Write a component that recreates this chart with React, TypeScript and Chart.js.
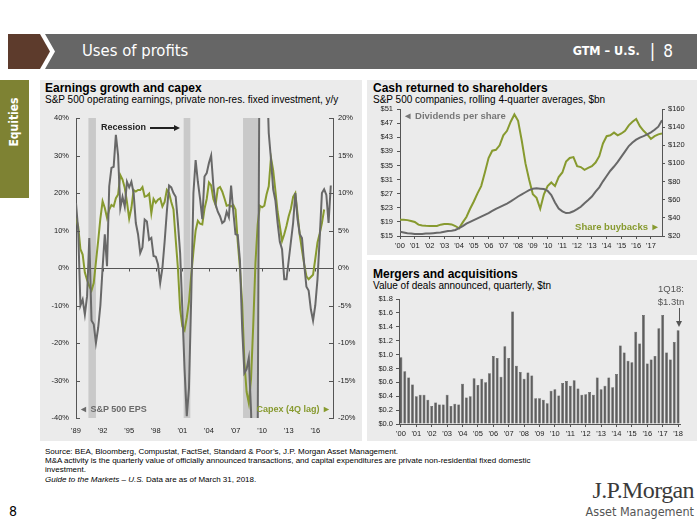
import React, { useEffect, useRef } from 'react';
import { Chart, registerables } from 'chart.js';

Chart.register(...registerables);

const SANS = '"Liberation Sans", Arial, Helvetica, sans-serif';
const NARROW = '"Liberation Sans Narrow", "DejaVu Sans Condensed", "Liberation Sans", sans-serif';
const SERIF = '"Liberation Serif", "DejaVu Serif", serif';

const GREEN = '#879a2f';
const GRAY = '#686868';
const AXIS = '#555555';
const TXT = '#222222';
const PANEL = '#ebebeb';

// ---------- Earnings growth and capex (quarterly, from 1989 Q1) ----------
const epsStartYear = 1989;
const epsValues = [
  17.3, 10, -10, -8.4, -12.4, -7.5, 8, -14, -15, -20,
  -16, -10, 0, 9, 0.5, 21.8, 26.7, 27, 35.5, 30,
  16, 19, 16.4, 23, 21.5, 23, 20, 12, 9, 4,
  5.5, 12.9, 12.4, 7.5, 8, 3.2, 3, 1, -4, 0,
  7, 15, 22, 21.5, 20, 19, 12, 4, -11, -27,
  -39.5, -32, -8, 20, 28.8, 23, 18.5, 13, 24.4, 25.3,
  28, 30, 22, 17, 15, 13.8, 12, 12.5, 15, 13.5,
  22, 15, 9, 8.8, 2, -16, -28, -27, -24, -38,
  -60, -65, -45, 80, 150, 120, 55, 36, 29, 21,
  18, 12, 7, 5, -3, -3, 2, 7, 12, 20,
  13, 9, 8, 1, -5, -6, -11, -14, -10, -3,
  8, 20, 21, 19.5, 12, 22,
];
const capexValues = [
  6.7, 5.5, 2.5, 1.8, -0.6, -1.6, -2.4, -3, -2, 0.8,
  3.6, 6.6, 8.9, 8, 6.7, 7.8, 8.4, 8.2, 9.3, 9.8,
  12.4, 11.8, 10.7, 8.8, 6.6, 8, 10.4, 10.2, 10.4, 10.4,
  10.8, 9.5, 9.6, 9.9, 7.3, 9.2, 8.7, 9.1, 9.3, 8.2,
  8.8, 10.4, 10, 8.8, 7.8, 3.8, 0, -5.5, -7.8, -8.3,
  -6.6, -4.5, -1, 2.2, 5, 6.3, 5.9, 5.8, 7.9, 9.2,
  11.4, 11, 9.2, 8.4, 10.6, 10.8, 10.2, 9.3, 8.3, 8.4,
  8.2, 8.4, 7.8, 3.5, 0, -4.7, -12.5, -16.5, -18, -14.8,
  -7.6, 0.7, 5.8, 8.3, 8.1, 8.3, 9.8, 10.9, 14.7, 13,
  10.3, 7.5, 5.6, 3.6, 4.5, 5.6, 6.9, 7.9, 9.5, 10,
  7.2, 4.4, 2.4, 0.5, -1.1, -1.5, -1.2, -0.9, 1.2, 3.4,
  4.6, 6, 7.8,
];
const recessions = [
  [1990.4, 1991.25],
  [2001.15, 2001.9],
  [2007.85, 2009.6],
];
const earningsYearTicks = [1989, 1992, 1995, 1998, 2001, 2004, 2007, 2010, 2013, 2016];
const epsAxisTicks = [-40, -30, -20, -10, 0, 10, 20, 30, 40];
const capexAxisTicks = [-20, -15, -10, -5, 0, 5, 10, 15, 20];

// ---------- Cash returned to shareholders (quarterly, from 2000 Q1) ----------
const cashStartYear = 2000;
const dividendValues = [
  16.2, 16.0, 15.8, 15.7, 15.6, 15.6, 15.6, 15.7, 15.7, 15.8,
  15.9, 16.0, 16.2, 16.4, 16.5, 16.7, 17.2, 17.8, 18.5, 19.0,
  19.5, 20, 20.5, 21, 21.5, 22.1, 22.7, 23.2, 23.7, 24.2,
  24.8, 25.5, 26.2, 26.8, 27.4, 28, 28.4, 28.5, 28.4, 28.3,
  27.8, 26.6, 24.5, 22.8, 22.0, 21.5, 21.6, 22.0, 22.6, 23.3,
  24.3, 25.2, 26.2, 27.6, 28.8, 30.5, 32, 33.5, 34.7, 36,
  37.5, 39, 40.5, 41.5, 42.3, 42.9, 43.3, 43.8, 44.4, 45.1,
  46, 47.8,
];
const buybackValues = [
  37.8, 37.8, 37.5, 36.5, 35.5, 32.5, 31.5, 31.2, 31, 31,
  31, 32.5, 33.3, 33.3, 32.8, 31, 28.5, 35, 41, 50,
  58, 67, 75, 90, 106, 114, 115, 120, 131, 136,
  146, 154, 147, 125, 100, 82, 66, 62, 50, 66,
  75, 79, 75, 85, 90, 102, 106, 107, 97, 96,
  93, 95, 97, 101, 108, 122, 130, 131, 134, 131,
  133, 136, 142, 146, 149, 141, 136, 132, 127, 130,
  132, 133,
];
const cashYearTicks = [2000, 2001, 2002, 2003, 2004, 2005, 2006, 2007, 2008, 2009, 2010, 2011, 2012, 2013, 2014, 2015, 2016, 2017];
const dividendAxisTicks = [15, 19, 23, 27, 31, 35, 39, 43, 47, 51];
const buybackAxisTicks = [20, 40, 60, 80, 100, 120, 140, 160];

// ---------- Mergers and acquisitions (quarterly, 2000 Q1 - 2018 Q1) ----------
const mnaValues = [
  0.96, 0.76, 0.67, 0.57, 0.40, 0.42, 0.42, 0.35, 0.26, 0.31,
  0.28, 0.28, 0.42, 0.26, 0.29, 0.28, 0.58, 0.38, 0.40, 0.66,
  0.56, 0.65, 0.60, 0.73, 0.98, 0.95, 0.68, 1.12, 0.95, 1.62,
  0.84, 0.75, 0.65, 0.74, 0.70, 0.37, 0.37, 0.35, 0.30, 0.48,
  0.50, 0.41, 0.59, 0.62, 0.55, 0.63, 0.51, 0.42, 0.43, 0.46,
  0.42, 0.67, 0.50, 0.55, 0.67, 0.53, 0.72, 1.13, 1.03, 0.91,
  0.89, 1.33, 1.16, 1.57, 0.87, 0.93, 0.98, 1.38, 1.57, 1.03,
  0.93, 1.18, 1.35,
];
const mnaYearLabels = ["'00", "'01", "'02", "'03", "'04", "'05", "'06", "'07", "'08", "'09", "'10", "'11", "'12", "'13", "'14", "'15", "'16", "'17", "'18"];
const mnaAxisTicks = [0, 0.2, 0.4, 0.6, 0.8, 1.0, 1.2, 1.4, 1.6, 1.8];

const tickFont = { family: SANS, size: 7.5 };

function yearLabel(v: number) {
  return "'" + String(Math.round(v)).slice(2);
}

const earningsDecor = {
  id: 'earningsDecor',
  beforeDraw(chart: any) {
    const { ctx, chartArea: a, scales } = chart;
    const x = scales.x;
    ctx.save();
    ctx.fillStyle = '#c9c9c9';
    recessions.forEach(([s, e]) => {
      const x0 = x.getPixelForValue(s);
      const x1 = x.getPixelForValue(e);
      ctx.fillRect(x0, a.top, x1 - x0, a.bottom - a.top);
    });
    ctx.restore();
  },
  afterDraw(chart: any) {
    const { ctx, chartArea: a, scales } = chart;
    const { x, y, y2 } = scales;
    ctx.save();
    ctx.strokeStyle = AXIS;
    ctx.lineWidth = 1;
    y.ticks.forEach((t: any) => {
      const py = Math.round(y.getPixelForValue(t.value)) + 0.5;
      ctx.beginPath();
      ctx.moveTo(a.left, py);
      ctx.lineTo(a.left + 4, py);
      ctx.stroke();
    });
    y2.ticks.forEach((t: any) => {
      const py = Math.round(y2.getPixelForValue(t.value)) + 0.5;
      ctx.beginPath();
      ctx.moveTo(a.right - 4, py);
      ctx.lineTo(a.right, py);
      ctx.stroke();
    });
    const zy = Math.round(y.getPixelForValue(0)) + 0.5;
    x.ticks.forEach((t: any) => {
      const px = Math.round(x.getPixelForValue(t.value)) + 0.5;
      ctx.beginPath();
      ctx.moveTo(px, zy);
      ctx.lineTo(px, zy + 3);
      ctx.stroke();
    });
    ctx.restore();
  },
};

type TProps = {
  x: number; y: number; size: number; children: React.ReactNode;
  bold?: boolean; italic?: boolean; color?: string; family?: string;
  align?: 'left' | 'right' | 'center'; width?: number; spacing?: number;
};
function T({ x, y, size, children, bold, italic, color, family, align, width, spacing }: TProps) {
  const style: React.CSSProperties = {
    position: 'absolute',
    top: y,
    fontSize: size,
    lineHeight: 1,
    fontWeight: bold ? 'bold' : 'normal',
    fontStyle: italic ? 'italic' : 'normal',
    color: color || '#000',
    fontFamily: family || SANS,
    whiteSpace: 'nowrap',
    letterSpacing: spacing,
  };
  if (align === 'right') {
    style.right = 700 - x;
    style.textAlign = 'right';
  } else if (align === 'center') {
    style.left = x - (width || 60) / 2;
    style.width = width || 60;
    style.textAlign = 'center';
  } else {
    style.left = x;
  }
  return <div style={style}>{children}</div>;
}

function Box(props: { x: number; y: number; w: number; h: number; bg: string; clip?: string }) {
  return (
    <div
      style={{
        position: 'absolute', left: props.x, top: props.y, width: props.w, height: props.h,
        background: props.bg, clipPath: props.clip,
      }}
    />
  );
}

export default function App() {
  const r1 = useRef<HTMLCanvasElement>(null);
  const r2 = useRef<HTMLCanvasElement>(null);
  const r3 = useRef<HTMLCanvasElement>(null);

  useEffect(() => {
    Chart.defaults.font.family = SANS;
    const charts: Chart[] = [];

    // Chart 1: earnings & capex
    const epsPoints = epsValues.map((v, i) => ({ x: epsStartYear + i * 0.25, y: v }));
    const capexPoints = capexValues.map((v, i) => ({ x: epsStartYear + i * 0.25, y: v }));
    charts.push(
      new Chart(r1.current as HTMLCanvasElement, {
        type: 'line',
        data: {
          datasets: [
            { label: 'S&P 500 EPS', data: epsPoints, yAxisID: 'y', borderColor: GRAY, borderWidth: 2, pointRadius: 0, tension: 0 },
            { label: 'Capex (4Q lag)', data: capexPoints, yAxisID: 'y2', borderColor: GREEN, borderWidth: 2, pointRadius: 0, tension: 0 },
          ],
        },
        options: {
          animation: false,
          responsive: false,
          maintainAspectRatio: false,
          layout: { padding: { top: 12, left: 0, right: 0, bottom: 0 } },
          plugins: { legend: { display: false }, tooltip: { enabled: false } },
          scales: {
            x: {
              type: 'linear', min: 1989, max: 2018,
              afterBuildTicks: (s: any) => { s.ticks = earningsYearTicks.map((v) => ({ value: v })); },
              ticks: { callback: (v: any) => yearLabel(Number(v)), font: tickFont, color: TXT, maxRotation: 0, autoSkip: false, padding: 8 },
              grid: { display: false, drawTicks: false },
              border: { display: false },
              afterFit: (s: any) => { s.height = 23; },
            },
            y: {
              position: 'left', min: -40, max: 40,
              afterBuildTicks: (s: any) => { s.ticks = epsAxisTicks.map((v) => ({ value: v })); },
              ticks: { callback: (v: any) => v + '%', font: tickFont, color: TXT, padding: 7 },
              grid: { color: (c: any) => (c.tick && c.tick.value === 0 ? AXIS : 'rgba(0,0,0,0)'), drawTicks: false, lineWidth: 1 },
              border: { display: true, color: AXIS },
              afterFit: (s: any) => { s.width = 36; },
            },
            y2: {
              position: 'right', min: -20, max: 20,
              afterBuildTicks: (s: any) => { s.ticks = capexAxisTicks.map((v) => ({ value: v })); },
              ticks: { callback: (v: any) => v + '%', font: tickFont, color: TXT, padding: 5 },
              grid: { display: false, drawTicks: false },
              border: { display: true, color: AXIS },
              afterFit: (s: any) => { s.width = 29; },
            },
          },
        } as any,
        plugins: [earningsDecor],
      })
    );

    // Chart 2: cash returned
    const divPoints = dividendValues.map((v, i) => ({ x: cashStartYear + i * 0.25, y: v }));
    const bbPoints = buybackValues.map((v, i) => ({ x: cashStartYear + i * 0.25, y: v }));
    const outsideGrid = { drawOnChartArea: false, drawTicks: true, tickLength: 3, color: AXIS };
    charts.push(
      new Chart(r2.current as HTMLCanvasElement, {
        type: 'line',
        data: {
          datasets: [
            { label: 'Dividends per share', data: divPoints, yAxisID: 'y', borderColor: GRAY, borderWidth: 2, pointRadius: 0 },
            { label: 'Share buybacks', data: bbPoints, yAxisID: 'y2', borderColor: GREEN, borderWidth: 2, pointRadius: 0 },
          ],
        },
        options: {
          animation: false,
          responsive: false,
          maintainAspectRatio: false,
          layout: { padding: { top: 9, left: 0, right: 0, bottom: 0 } },
          plugins: { legend: { display: false }, tooltip: { enabled: false } },
          scales: {
            x: {
              type: 'linear', min: 2000, max: 2017.75,
              afterBuildTicks: (s: any) => { s.ticks = cashYearTicks.map((v) => ({ value: v })); },
              ticks: { callback: (v: any) => yearLabel(Number(v)), font: tickFont, color: TXT, maxRotation: 0, autoSkip: false, padding: 2 },
              grid: outsideGrid,
              border: { display: true, color: AXIS },
              afterFit: (s: any) => { s.height = 19; },
            },
            y: {
              position: 'left', min: 15, max: 51,
              afterBuildTicks: (s: any) => { s.ticks = dividendAxisTicks.map((v) => ({ value: v })); },
              ticks: { callback: (v: any) => '$' + v, font: tickFont, color: TXT, padding: 4 },
              grid: outsideGrid,
              border: { display: true, color: AXIS },
              afterFit: (s: any) => { s.width = 33; },
            },
            y2: {
              position: 'right', min: 20, max: 160,
              afterBuildTicks: (s: any) => { s.ticks = buybackAxisTicks.map((v) => ({ value: v })); },
              ticks: { callback: (v: any) => '$' + v, font: tickFont, color: TXT, padding: 3 },
              grid: outsideGrid,
              border: { display: true, color: AXIS },
              afterFit: (s: any) => { s.width = 35; },
            },
          },
        } as any,
      })
    );

    // Chart 3: M&A
    const mnaLabels = mnaValues.map((_, i) => `${(i % 4) + 1}Q${mnaYearLabels[Math.floor(i / 4)].slice(1)}`);
    charts.push(
      new Chart(r3.current as HTMLCanvasElement, {
        type: 'bar',
        data: {
          labels: mnaLabels,
          datasets: [
            {
              label: 'M&A', data: mnaValues, backgroundColor: '#5e5e5e', borderColor: '#444444', borderWidth: 0.5,
              categoryPercentage: 0.74, barPercentage: 1,
            },
          ],
        },
        options: {
          animation: false,
          responsive: false,
          maintainAspectRatio: false,
          layout: { padding: { top: 8, left: 0, right: 17, bottom: 0 } },
          plugins: { legend: { display: false }, tooltip: { enabled: false } },
          scales: {
            x: {
              type: 'category',
              ticks: {
                callback: (_v: any, i: number) => (i % 4 === 0 ? mnaYearLabels[i / 4] : ''),
                font: tickFont, color: TXT, maxRotation: 0, minRotation: 0, autoSkip: false, padding: 2,
              },
              grid: {
                drawOnChartArea: false, drawTicks: true, tickLength: 3, offset: false,
                color: (c: any) => (c.index % 4 === 0 ? AXIS : 'rgba(0,0,0,0)'),
              },
              border: { display: true, color: AXIS },
              afterFit: (s: any) => { s.height = 17; },
            },
            y: {
              min: 0, max: 1.8,
              afterBuildTicks: (s: any) => { s.ticks = mnaAxisTicks.map((v) => ({ value: v })); },
              ticks: { callback: (v: any) => '$' + Number(v).toFixed(1), font: tickFont, color: TXT, padding: 3 },
              grid: { drawOnChartArea: false, drawTicks: true, tickLength: 3, color: AXIS },
              border: { display: true, color: AXIS },
              afterFit: (s: any) => { s.width = 32; },
            },
          },
        } as any,
      })
    );

    return () => charts.forEach((c) => c.destroy());
  }, []);

  const canvasStyle = (x: number, y: number, w: number, h: number): React.CSSProperties => ({
    position: 'absolute', left: x, top: y, width: w, height: h, display: 'block',
  });

  return (
    <div style={{ position: 'fixed', left: 0, top: 0, width: 700, height: 525, background: '#fff', overflow: 'hidden', fontFamily: SANS }}>
      {/* header */}
      <Box x={8} y={34} w={42} h={35} bg="#5d3b2c" clip="polygon(0 0, 32px 0, 42px 50%, 32px 100%, 0 100%)" />
      <Box x={45} y={34} w={652} h={35} bg="#666666" clip="polygon(0 0, 100% 0, 100% 100%, 0 100%, 10px 50%)" />
      <T x={82} y={43} size={16.5} color="#fff" family={NARROW}>Uses of profits</T>
      <div
        style={{
          position: 'absolute', right: 27, top: 42, color: '#fff', fontFamily: NARROW, whiteSpace: 'nowrap',
          lineHeight: '18px', display: 'flex', alignItems: 'center',
        }}
      >
        <span style={{ fontSize: 12.5, fontWeight: 'bold' }}>GTM – U.S.</span>
        <span style={{ fontSize: 18, margin: '0 8px 0 10px' }}>|</span>
        <span style={{ fontSize: 17 }}>8</span>
      </div>

      {/* side tab */}
      <Box x={0} y={80} w={29} h={118} bg="#7e8233" />
      <div
        style={{
          position: 'absolute', left: 14, top: 122, transform: 'translate(-50%, -50%) rotate(-90deg)',
          color: '#fff', fontFamily: NARROW, fontWeight: 'bold', fontSize: 12, whiteSpace: 'nowrap', lineHeight: 1,
        }}
      >
        Equities
      </div>

      {/* panels */}
      <Box x={40} y={80} w={322} h={361} bg={PANEL} />
      <Box x={367} y={80} w={330} h={175} bg={PANEL} />
      <Box x={367} y={260} w={330} h={181} bg={PANEL} />

      {/* left panel titles */}
      <T x={45} y={82} size={12} bold>Earnings growth and capex</T>
      <T x={45} y={95} size={10}>S&amp;P 500 operating earnings, private non-res. fixed investment, y/y</T>

      <canvas ref={r1} width={322} height={335} style={canvasStyle(40, 106, 322, 335)} />

      <T x={101} y={123} size={9} bold color="#222">Recession</T>
      <div style={{ position: 'absolute', left: 150, top: 127, width: 25, height: 1.5, background: '#222' }} />
      <div style={{ position: 'absolute', left: 174, top: 125, width: 0, height: 0, borderLeft: '6px solid #222', borderTop: '3px solid transparent', borderBottom: '3px solid transparent' }} />
      <T x={79} y={405} size={9} bold color="#6a6a6a">◄ S&amp;P 500 EPS</T>
      <T x={331} y={405} size={9} bold color={GREEN} align="right">Capex (4Q lag) ►</T>

      {/* right top */}
      <T x={373} y={82} size={12} bold>Cash returned to shareholders</T>
      <T x={373} y={95} size={10}>S&amp;P 500 companies, rolling 4-quarter averages, $bn</T>

      <canvas ref={r2} width={330} height={155} style={canvasStyle(367, 100, 330, 155)} />

      <T x={403} y={111} size={9.5} bold color="#777">◄ Dividends per share</T>
      <T x={660} y={222} size={9.5} bold color={GREEN} align="right">Share buybacks ►</T>

      {/* right bottom */}
      <T x={373} y={268} size={12} bold>Mergers and acquisitions</T>
      <T x={373} y={281} size={10}>Value of deals announced, quarterly, $tn</T>

      <canvas ref={r3} width={330} height={150} style={canvasStyle(367, 291, 330, 150)} />

      <T x={671} y={284} size={9.5} color="#555" align="center" width={50}>1Q18:</T>
      <T x={671} y={297} size={9.5} color="#555" align="center" width={50}>$1.3tn</T>
      <div style={{ position: 'absolute', left: 678.5, top: 308, width: 1, height: 14, background: '#555' }} />
      <div style={{ position: 'absolute', left: 676, top: 321, width: 0, height: 0, borderTop: '6px solid #555', borderLeft: '3px solid transparent', borderRight: '3px solid transparent' }} />

      {/* footer */}
      <T x={45} y={448} size={8}>Source: BEA, Bloomberg, Compustat, FactSet, Standard &amp; Poor’s, J.P. Morgan Asset Management.</T>
      <T x={45} y={457} size={8}>M&amp;A activity is the quarterly value of officially announced transactions, and capital expenditures are private non-residential fixed domestic</T>
      <T x={45} y={466} size={8}>investment.</T>
      <T x={45} y={476} size={8}><i>Guide to the Markets – U.S.</i> Data are as of March 31, 2018.</T>

      <T x={9} y={504} size={14} family={NARROW}>8</T>
      <T x={694} y={478} size={24} family={SERIF} color="#3a3a3a" align="right" spacing={-0.6}>J.P.Morgan</T>
      <T x={694} y={506} size={12.5} family={NARROW} color="#555" align="right">Asset Management</T>
    </div>
  );
}
